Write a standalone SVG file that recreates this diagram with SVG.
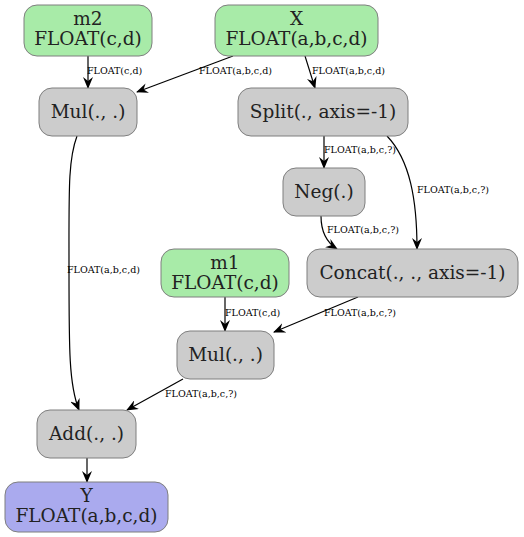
<svg xmlns="http://www.w3.org/2000/svg" width="524" height="537" viewBox="0 0 524 537" font-family="'DejaVu Serif', serif">
<defs>
<marker id="vee" viewBox="0 0 12 10" refX="11" refY="5" markerWidth="12" markerHeight="10" markerUnits="userSpaceOnUse" orient="auto">
<path d="M0,0 L12,5 L0,10 L4,5 Z" fill="#000"/>
</marker>
</defs>
<style>
.in rect{fill:#a8eba8;stroke:#7f7f7f;stroke-width:1}
.op rect{fill:#cccccc;stroke:#7f7f7f;stroke-width:1}
.out rect{fill:#aaaaee;stroke:#7f7f7f;stroke-width:1}
text{font-family:'DejaVu Serif', serif;fill:#222;text-anchor:middle}
.n{font-size:18.5px}
.l{font-size:9.5px;text-anchor:start;fill:#000}
#edges path{fill:none;stroke:#000;stroke-width:1.2;marker-end:url(#vee)}
</style>
<rect width="524" height="537" fill="#fff"/>
<g id="edges">
<path d="M88,56 L88,88"/>
<path d="M233,56 L137,92"/>
<path d="M305,56 L315,88"/>
<path d="M77,136 C68,160 69,190 69,270 C69,350 69,385 79,410"/>
<path d="M324,136 L324,168"/>
<path d="M387,136 C410,160 417,200 417,249"/>
<path d="M321,216 C321,232 326,242 337,249"/>
<path d="M225,297 L225,331"/>
<path d="M358,297 L274,332"/>
<path d="M183,379 L127,410"/>
<path d="M87,458 L87,482"/>
<text class="l" x="87" y="74">FLOAT(c,d)</text>
<text class="l" x="199" y="74">FLOAT(a,b,c,d)</text>
<text class="l" x="312" y="74">FLOAT(a,b,c,d)</text>
<text class="l" x="67" y="273">FLOAT(a,b,c,d)</text>
<text class="l" x="324" y="153">FLOAT(a,b,c,?)</text>
<text class="l" x="417" y="193">FLOAT(a,b,c,?)</text>
<text class="l" x="327" y="233">FLOAT(a,b,c,?)</text>
<text class="l" x="225" y="316">FLOAT(c,d)</text>
<text class="l" x="324" y="316">FLOAT(a,b,c,?)</text>
<text class="l" x="165" y="397">FLOAT(a,b,c,?)</text>
</g>
<g id="m2" class="in"><rect x="24" y="5" width="128" height="51" rx="13"/><text class="n" x="88" y="25">m2</text><text class="n" x="88" y="45">FLOAT(c,d)</text></g>
<g id="X" class="in"><rect x="215" y="5" width="163" height="51" rx="13"/><text class="n" x="296.5" y="25">X</text><text class="n" x="296.5" y="45">FLOAT(a,b,c,d)</text></g>
<g id="mul1" class="op"><rect x="39" y="88" width="98" height="48" rx="13"/><text class="n" x="88" y="118">Mul(., .)</text></g>
<g id="split" class="op"><rect x="238" y="88" width="170" height="48" rx="13"/><text class="n" x="323" y="118">Split(., axis=-1)</text></g>
<g id="neg" class="op"><rect x="283" y="168" width="82" height="48" rx="13"/><text class="n" x="324" y="198">Neg(.)</text></g>
<g id="m1" class="in"><rect x="161" y="249" width="128" height="48" rx="13"/><text class="n" x="225" y="269">m1</text><text class="n" x="225" y="289">FLOAT(c,d)</text></g>
<g id="concat" class="op"><rect x="307" y="249" width="211" height="48" rx="13"/><text class="n" x="412.5" y="279">Concat(., ., axis=-1)</text></g>
<g id="mul2" class="op"><rect x="177" y="331" width="97" height="48" rx="13"/><text class="n" x="225.5" y="361">Mul(., .)</text></g>
<g id="add" class="op"><rect x="37" y="410" width="99" height="48" rx="13"/><text class="n" x="86.5" y="440">Add(., .)</text></g>
<g id="Y" class="out"><rect x="5" y="482" width="163" height="50" rx="13"/><text class="n" x="86.5" y="502">Y</text><text class="n" x="86.5" y="522">FLOAT(a,b,c,d)</text></g>
</svg>
